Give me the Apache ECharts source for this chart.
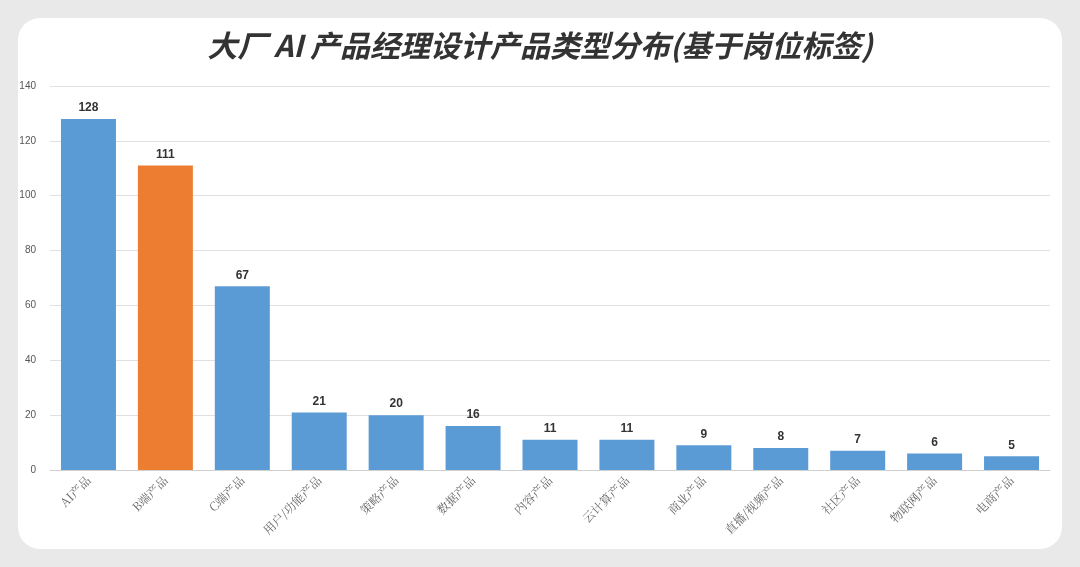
<!DOCTYPE html>
<html><head><meta charset="utf-8">
<script src="https://cdn.jsdelivr.net/npm/echarts@6/dist/echarts.min.js"></script>
<style>html,body{margin:0;padding:0;background:#e9e9e9;}
#card{position:absolute;left:18px;top:18px;width:1044px;height:531px;background:#fff;border-radius:22px;}
#c{position:absolute;left:0;top:0;width:1080px;height:567px;}</style></head>
<body><div id="card"></div><div id="c"></div>
<script>
const categories=["AI产品","B端产品","C端产品","用户/功能产品","策略产品","数据产品","内容产品","云计算产品","商业产品","直播/视频产品","社区产品","物联网产品","电商产品"];
const values=[128,111,67,21,20,16,11,11,9,8,7,6,5];
const highlightIndex=1;
const chart=echarts.init(document.getElementById('c'));
chart.setOption({
 title:{text:"大厂 AI 产品经理设计产品类型分布(基于岗位标签)",left:'center',top:26,
  textStyle:{fontSize:30,fontWeight:'bold',fontStyle:'italic',color:'#333',fontFamily:'Noto Sans CJK SC'}},
 grid:{left:50,right:30,top:86,bottom:97},
 xAxis:{type:'category',data:categories,axisTick:{show:false},
  axisLine:{lineStyle:{color:'#d0d0d0'}},
  axisLabel:{rotate:45,color:'#666',fontSize:12,fontFamily:'Noto Serif CJK SC, Noto Sans CJK SC',margin:8}},
 yAxis:{type:'value',min:0,max:140,interval:20,axisLine:{show:false},
  axisLabel:{color:'#555',fontSize:10,margin:14},
  splitLine:{lineStyle:{color:'#e0e0e0'}}},
 series:[{type:'bar',barWidth:55,
  data:values.map((v,i)=>({value:v,itemStyle:{color:i===highlightIndex?'#ED7D31':'#5B9BD5'}})),
  label:{show:true,position:'top',fontWeight:'bold',fontSize:12,color:'#333'}}]
});
</script></body></html>
